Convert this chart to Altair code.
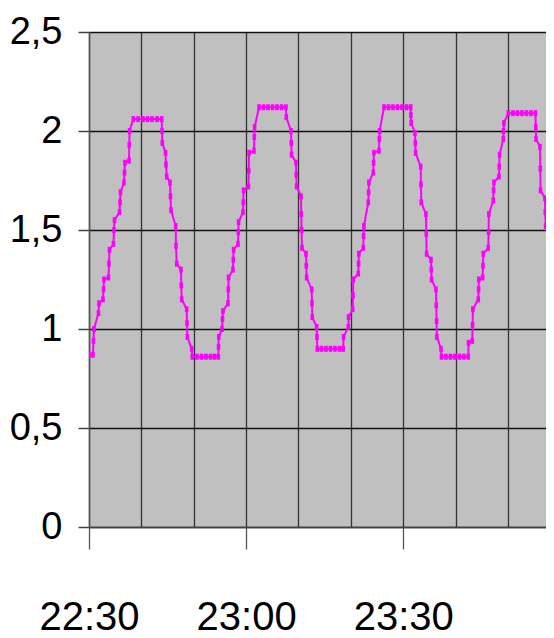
import altair as alt
import pandas as pd

# minutes after 22:30
minutes = [
    0, 0.76, 0.86, 0.95, 1.81, 1.91, 2.67, 2.77, 2.86, 3.72, 3.82, 3.91,
    4.68, 4.77, 4.87, 5.82, 5.92, 6.01, 6.68, 6.78, 6.87, 7.64, 7.69, 7.75,
    8.46, 9.36, 10.31, 11.17, 12.03, 12.98, 13.88,
    13.94, 14.00, 14.61, 14.70, 14.84, 15.47, 15.56, 15.66, 16.55, 16.61, 16.75,
    17.57, 17.62, 17.70, 18.65, 18.71, 18.77, 19.61, 19.72,
    20.62, 21.48, 22.34, 23.20, 23.96, 24.69,
    24.73, 24.78, 25.39, 25.49, 25.58, 26.54, 26.60, 26.65, 27.49, 27.55, 27.61,
    28.45, 28.51, 28.56, 29.40, 29.46, 29.52, 30.45, 30.51, 30.55, 31.50, 31.56, 31.62,
    32.46, 33.32, 34.18, 35.04, 35.89, 36.75, 37.61,
    37.67, 38.57, 38.63, 38.68, 39.52, 39.58, 39.64, 40.48, 40.53, 40.59, 40.67,
    41.43, 41.49, 41.55, 42.52, 42.58, 42.63, 43.48, 43.53,
    43.59, 44.39, 45.25, 46.11, 46.97, 47.83, 48.55,
    48.61, 49.51, 49.56, 50.35, 50.41, 50.46, 51.42, 51.48, 51.53, 52.37, 52.43, 52.49,
    53.33, 53.39, 53.44, 54.28, 54.34, 54.40, 55.37, 55.43, 55.49,
    56.32, 57.18, 58.04, 58.90, 59.76, 60.62, 61.42,
    61.46, 61.52, 62.24, 62.30, 62.36, 63.33, 63.39, 63.44, 64.34, 64.40, 64.46,
    65.30, 65.36, 65.41, 66.25, 66.31, 66.37, 66.42, 67.21, 67.30,
    68.16, 69.02, 69.88, 70.74, 71.60, 72.42,
    72.46, 73.18, 73.24, 73.30, 74.33, 74.39, 74.44, 75.17, 75.23, 75.28,
    76.24, 76.30, 76.35, 77.19, 77.25, 77.31, 78.28, 78.34, 78.40, 79.10, 79.16, 79.22,
    80.06, 80.95, 81.81, 82.67, 83.53, 84.39, 85.25,
    85.31, 85.35, 86.11, 86.17, 86.22, 87.06, 87.12, 87.18, 88.02, 88.08, 88.13, 88.97,
]

values = [
    0.87, 0.87, 0.94, 1.00, 1.08, 1.13, 1.15, 1.20, 1.25, 1.26, 1.33, 1.40,
    1.43, 1.50, 1.55, 1.59, 1.64, 1.69, 1.74, 1.79, 1.84, 1.85, 1.93, 2.00,
    2.06, 2.06, 2.06, 2.06, 2.06, 2.06, 2.06,
    2.00, 1.94, 1.89, 1.83, 1.77, 1.74, 1.67, 1.60, 1.52, 1.42, 1.33,
    1.30, 1.22, 1.15, 1.10, 1.03, 0.96, 0.90, 0.86,
    0.86, 0.86, 0.86, 0.86, 0.86, 0.86,
    0.91, 0.96, 1.00, 1.05, 1.09, 1.13, 1.20, 1.26, 1.30, 1.35, 1.40,
    1.43, 1.49, 1.54, 1.59, 1.64, 1.70, 1.72, 1.80, 1.89, 1.90, 1.97, 2.02,
    2.12, 2.12, 2.12, 2.12, 2.12, 2.12, 2.12,
    2.07, 2.00, 1.94, 1.88, 1.84, 1.78, 1.72, 1.67, 1.58, 1.50, 1.41,
    1.38, 1.32, 1.26, 1.20, 1.13, 1.06, 1.01, 0.96,
    0.90, 0.90, 0.90, 0.90, 0.90, 0.90, 0.90,
    0.96, 1.01, 1.06, 1.10, 1.17, 1.25, 1.28, 1.33, 1.38, 1.41, 1.47, 1.52,
    1.64, 1.69, 1.74, 1.79, 1.84, 1.89, 1.90, 1.96, 2.00,
    2.12, 2.12, 2.12, 2.12, 2.12, 2.12, 2.12,
    2.08, 2.04, 1.99, 1.94, 1.89, 1.82, 1.73, 1.64, 1.58, 1.48, 1.38,
    1.35, 1.30, 1.25, 1.20, 1.12, 1.04, 0.96, 0.90, 0.86,
    0.86, 0.86, 0.86, 0.86, 0.86, 0.86,
    0.93, 0.94, 1.02, 1.10, 1.15, 1.20, 1.25, 1.26, 1.32, 1.38,
    1.41, 1.49, 1.58, 1.65, 1.70, 1.74, 1.77, 1.82, 1.88, 1.96, 2.00, 2.04,
    2.09, 2.09, 2.09, 2.09, 2.09, 2.09, 2.09,
    2.02, 1.96, 1.92, 1.81, 1.70, 1.66, 1.59, 1.52, 1.48, 1.39, 1.29, 1.27,
]

x_grid = [0, 10, 20, 30, 40, 50, 60, 70, 80]
x_tick_values = [0, 30, 60]
x_tick_labels = ["22:30", "23:00", "23:30"]
y_tick_values = [0, 0.5, 1, 1.5, 2, 2.5]
y_tick_labels = ["0", "0,5", "1", "1,5", "2", "2,5"]

df = pd.DataFrame({"t": minutes, "v": values})

x_expr = " : ".join(
    f"datum.value == {v} ? '{l}'" for v, l in zip(x_tick_values, x_tick_labels)
) + " : ''"
y_expr = " : ".join(
    f"datum.value == {v} ? '{l}'" for v, l in zip(y_tick_values, y_tick_labels)
) + " : ''"

FONT = "Liberation Sans, Arial, sans-serif"

x_enc = alt.X(
    "t:Q",
    scale=alt.Scale(domain=[0, 87.26], nice=False, zero=False),
    axis=alt.Axis(
        values=x_grid,
        labelExpr=x_expr,
        title=None,
        grid=True,
        gridColor="#333333",
        gridWidth=1.3,
        tickSize=22,
        tickColor="#555555",
        tickWidth=1.3,
        tickOpacity={"condition": {"test": "datum.value % 30 === 0", "value": 1}, "value": 0},
        domainColor="#444444",
        domainWidth=1.5,
        labelFont=FONT,
        labelFontSize=40,
        labelColor="#000000",
        labelPadding=48,
        labelAngle=0,
        labelFlush=False,
        labelOverlap=False,
    ),
)
y_enc = alt.Y(
    "v:Q",
    scale=alt.Scale(domain=[0, 2.5], nice=False),
    axis=alt.Axis(
        values=y_tick_values,
        labelExpr=y_expr,
        title=None,
        grid=True,
        gridColor="#111111",
        gridWidth=1.5,
        tickSize=11,
        tickColor="#444444",
        tickWidth=1.5,
        domainColor="#555555",
        domainWidth=1.5,
        labelFont=FONT,
        labelFontSize=38,
        labelColor="#000000",
        labelPadding=16,
        labelFlush=False,
        labelOverlap=False,
    ),
)

base = alt.Chart(df)
line = base.mark_line(color="#FF00FF", strokeWidth=2, clip=True).encode(x=x_enc, y=y_enc)
pts = base.mark_point(
    shape="M-0.6,-1H0.6V1H-0.6Z", filled=True, size=36, color="#FF00FF", opacity=1, clip=True
).encode(x="t:Q", y="v:Q")

chart = (
    alt.layer(line, pts)
    .properties(
        width=457,
        height=495,
        padding={"left": 81, "top": 24, "right": 0, "bottom": 111},
        autosize=alt.AutoSizeParams(type="none"),
        background="#FFFFFF",
    )
    .configure_view(fill="#C0C0C0", stroke=None)
)

chart.save("out.html", embed_options={"renderer": "svg", "actions": False})
